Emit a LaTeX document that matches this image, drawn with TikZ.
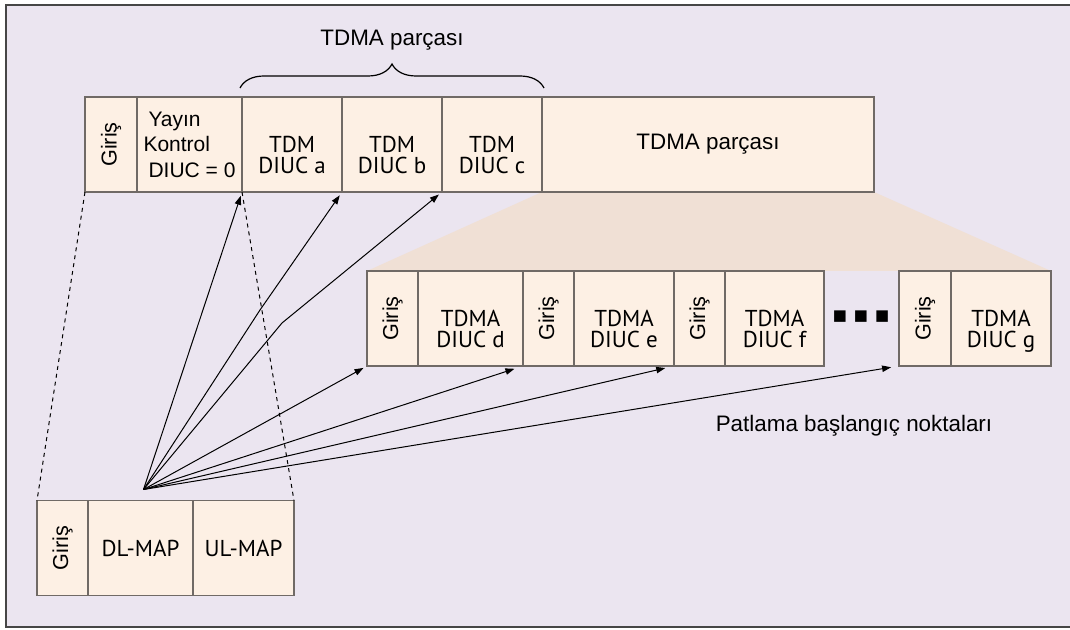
\documentclass[tikz,border=0pt]{standalone}
\usepackage{fontspec}
\setmainfont{Liberation Sans}
\newfontfamily\cellfont{PT Sans}
\newfontfamily\symfont{DejaVu Sans}
\usetikzlibrary{decorations.pathreplacing,calc,arrows.meta,backgrounds}
\definecolor{bgcol}{RGB}{235,229,240}
\definecolor{cellfill}{RGB}{253,240,228}
\definecolor{trapfill}{RGB}{240,224,213}
\definecolor{cellline}{RGB}{112,106,102}
\definecolor{framecol}{RGB}{70,70,70}
% pushes the two text lines of a burst cell a little down
\newcommand{\lowln}{\rule{0pt}{18.5pt}}

\begin{document}
\begin{tikzpicture}
[x=0.5pt, y=-0.5pt,
 cell/.style={draw=cellline, line width=0.6pt, fill=cellfill, inner sep=0pt, outer sep=0pt, minimum height=47.5pt, align=center},
 giris/.style={cell, minimum width=25.5pt, font=\fontsize{10.8}{12}\selectfont},
 tdm/.style={cell, text depth=0pt, font=\cellfont\fontsize{11.5}{10.8}\selectfont},
 map/.style={cell, font=\cellfont\fontsize{11.5}{12}\selectfont},
 bigtext/.style={font=\fontsize{11.2}{13}\selectfont},
 arr/.style={-{Triangle[length=4.5pt,width=3.2pt]}, line width=0.5pt, shorten >=2pt}]
\useasboundingbox (0,0) rectangle (1070,630);

% Top frame
\node[giris, minimum width=26pt] (g0) at (111,144.5) {\rotatebox{90}{Giriş}};
\node[cell, minimum width=52.5pt, align=left, font=\fontsize{10.5}{12.75}\selectfont] (yk) at (189.5,144.5) {\hspace*{2.5pt}Yayın\\Kontrol\\\hspace*{2.5pt}DIUC = 0};
\node[tdm, minimum width=50pt] (ta) at (292,144.5) {\lowln TDM\\DIUC a};
\node[tdm, minimum width=50pt] (tb) at (392,144.5) {\lowln TDM\\DIUC b};
\node[tdm, minimum width=50pt] (tc) at (492,144.5) {\lowln TDM\\DIUC c};
\node[cell, bigtext, minimum width=166pt] (tp) at (708,144.5) {TDMA parçası};

% TDMA bursts
\node[giris] (g1) at (392.5,318.5) {\rotatebox{90}{Giriş}};
\node[tdm, minimum width=52.5pt] (td) at (470.5,318.5) {\lowln TDMA\\DIUC d};
\node[giris] (g2) at (548.5,318.5) {\rotatebox{90}{Giriş}};
\node[tdm, minimum width=50pt] (te) at (624,318.5) {\lowln TDMA\\DIUC e};
\node[giris] (g3) at (699.5,318.5) {\rotatebox{90}{Giriş}};
\node[tdm, minimum width=49.5pt] (tf) at (774.5,318.5) {\lowln TDMA\\DIUC f};
\node[font=\symfont\fontsize{7.5}{8}\selectfont, inner sep=0pt] (more) at (861,317) {■\hspace{3.5pt}■\hspace{3.5pt}■};
\node[giris, minimum width=26pt] (g4) at (925,318.5) {\rotatebox{90}{Giriş}};
\node[tdm, minimum width=50pt] (tg) at (1001,318.5) {\lowln TDMA\\DIUC g};

% Broadcast part
\node[giris] (g5) at (62.5,548) {\rotatebox{90}{Giriş}};
\node[map, minimum width=52.5pt] (dl) at (140.5,548) {DL-MAP};
\node[map, minimum width=50.5pt] (ul) at (243.5,548) {UL-MAP};

% Labels
\draw[decorate, decoration={brace, amplitude=12pt}, line width=0.6pt] ($(ta.north west)+(-2,-9)$) -- ($(tc.north east)+(2,-9)$) node[midway, above=15pt, bigtext] (brlbl) {TDMA parçası};
\node[bigtext] (burst) at (854,426) {Patlama başlangıç noktaları};

\begin{scope}[on background layer]
\fill[bgcol] (6,5) rectangle (1075,627);
\fill[trapfill] (tp.south west) -- (tp.south east) -- (tg.north east) -- (g1.north west) -- cycle;
\end{scope}
\draw[framecol, line width=1pt] (1075,5) -- (6,5) -- (6,627) -- (1075,627);

\draw[dashed, dash pattern=on 2pt off 2pt, line width=0.5pt] (g0.south west) -- (g5.north west);
\draw[dashed, dash pattern=on 2pt off 2pt, line width=0.5pt] (yk.south east) -- (ul.north east);

% Pointers
\coordinate (src) at ($(dl.north)+(3,-11)$);
\coordinate (kb) at (260,310);
\coordinate (kc) at (282,323);
\draw[arr] (src) -- (yk.south east);
\draw[arr] (src) -- (kb) -- (ta.south east);
\draw[arr] (src) -- (kc) -- (tb.south east);
\draw[arr] (src) -- (g1.south west);
\draw[arr, shorten >=4.5pt] (src) -- (g2.south west);
\draw[arr, shorten >=4.5pt] (src) -- (g3.south west);
\draw[arr, shorten >=4pt] (src) -- (g4.south west);
\end{tikzpicture}
\end{document}
